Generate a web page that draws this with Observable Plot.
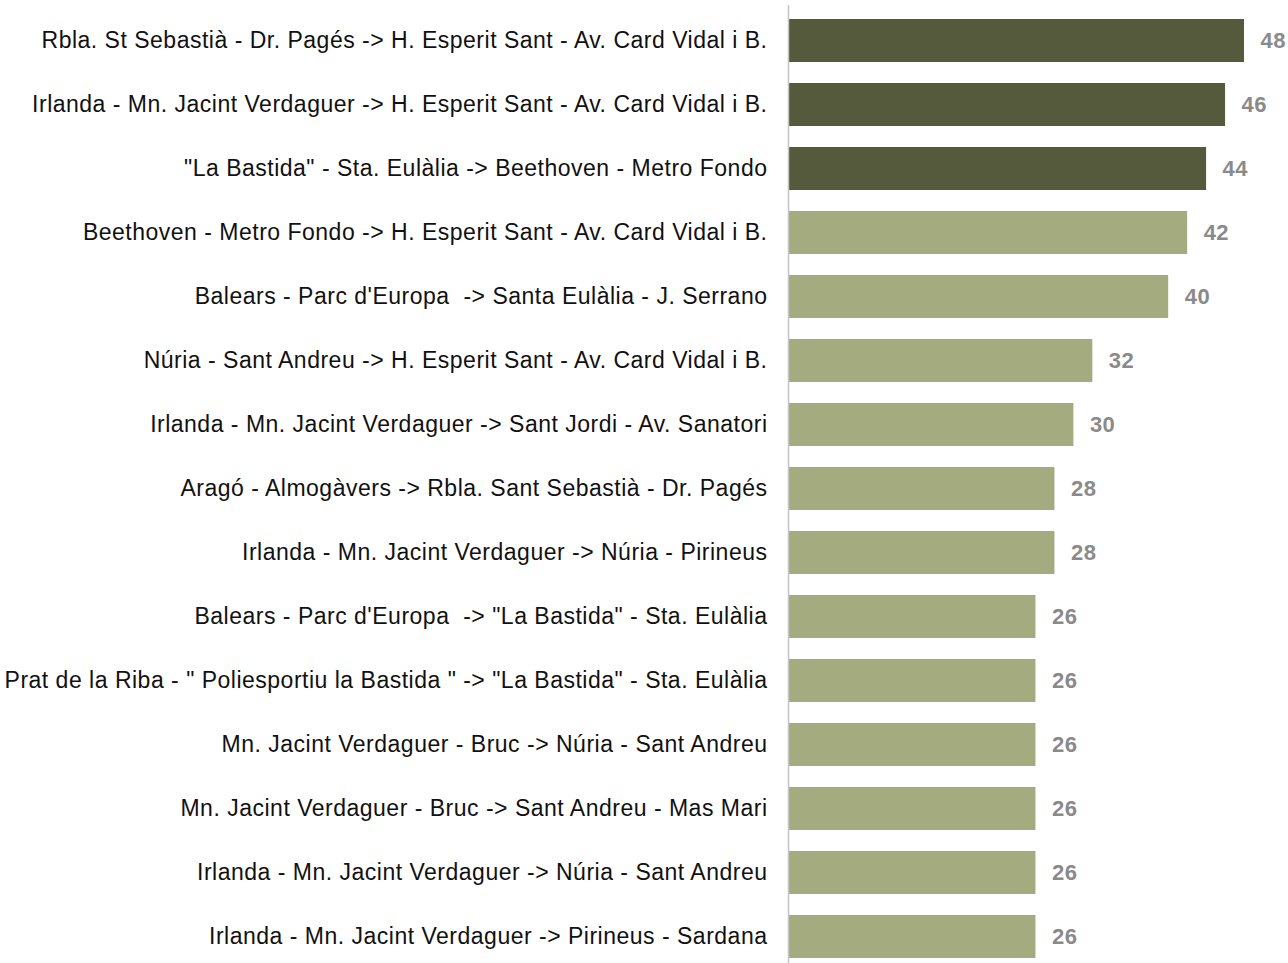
<!DOCTYPE html>
<html>
<head>
<meta charset="utf-8">
<script src="https://cdn.jsdelivr.net/npm/d3@7"></script>
<script src="https://cdn.jsdelivr.net/npm/@observablehq/plot@0.6"></script>
<style>
  html, body { margin: 0; padding: 0; background: #ffffff; }
  #chart svg { display: block; }
  #chart svg .route-label text { letter-spacing: 0.5px; }
  #chart svg .value-label text { letter-spacing: 0.5px; }
</style>
</head>
<body>
<div id="chart"></div>
<script>
const categories = [
  "Rbla. St Sebastià - Dr. Pagés -> H. Esperit Sant - Av. Card Vidal i B.",
  "Irlanda - Mn. Jacint Verdaguer -> H. Esperit Sant - Av. Card Vidal i B.",
  "\"La Bastida\" - Sta. Eulàlia -> Beethoven - Metro Fondo",
  "Beethoven - Metro Fondo -> H. Esperit Sant - Av. Card Vidal i B.",
  "Balears - Parc d'Europa  -> Santa Eulàlia - J. Serrano",
  "Núria - Sant Andreu -> H. Esperit Sant - Av. Card Vidal i B.",
  "Irlanda - Mn. Jacint Verdaguer -> Sant Jordi - Av. Sanatori",
  "Aragó - Almogàvers -> Rbla. Sant Sebastià - Dr. Pagés",
  "Irlanda - Mn. Jacint Verdaguer -> Núria - Pirineus",
  "Balears - Parc d'Europa  -> \"La Bastida\" - Sta. Eulàlia",
  "Prat de la Riba - \" Poliesportiu la Bastida \" -> \"La Bastida\" - Sta. Eulàlia",
  "Mn. Jacint Verdaguer - Bruc -> Núria - Sant Andreu",
  "Mn. Jacint Verdaguer - Bruc -> Sant Andreu - Mas Mari",
  "Irlanda - Mn. Jacint Verdaguer -> Núria - Sant Andreu",
  "Irlanda - Mn. Jacint Verdaguer -> Pirineus - Sardana"
];
const values = [48, 46, 44, 42, 40, 32, 30, 28, 28, 26, 26, 26, 26, 26, 26];
const groups = ["top", "top", "top", "rest", "rest", "rest", "rest", "rest",
                "rest", "rest", "rest", "rest", "rest", "rest", "rest"];
const groupDomain = ["top", "rest"];
const groupColors = ["#555a3c", "#a3ab7f"];

const data = categories.map((c, i) => ({route: c, value: values[i], group: groups[i]}));

const chart = Plot.plot({
  width: 1288,
  height: 963,
  marginLeft: 789,
  marginRight: 0,
  marginTop: 5,
  marginBottom: 0,
  style: {fontFamily: "'Liberation Sans', Arial, sans-serif", background: "#ffffff"},
  x: {domain: [0, 48], range: [789, 1244], axis: null},
  y: {domain: categories, range: [6, 971], paddingInner: 0.33, paddingOuter: 0.165, axis: null},
  color: {domain: groupDomain, range: groupColors},
  marks: [
    Plot.barX(data, {x: "value", y: "route", fill: "group"}),
    Plot.ruleX([0], {stroke: "#c4c4c4", strokeWidth: 1.5, dx: -1}),
    Plot.text(data, {x: 0, y: "route", text: "route", textAnchor: "end", dx: -22,
      fontSize: 23, fill: "#111111", className: "route-label"}),
    Plot.text(data, {x: "value", y: "route", text: d => String(d.value), textAnchor: "start",
      dx: 16, fontSize: 22, fontWeight: "bold", fill: "#8a8a8a", className: "value-label"})
  ]
});
document.getElementById("chart").appendChild(chart);
</script>
</body>
</html>
